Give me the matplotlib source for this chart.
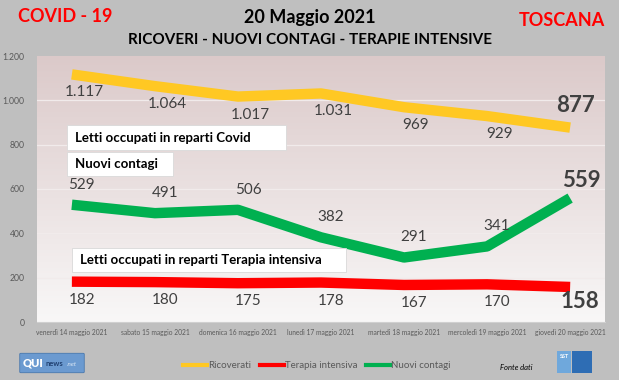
import matplotlib
matplotlib.use("Agg")
import matplotlib.pyplot as plt
import numpy as np
from matplotlib.patches import Rectangle, FancyBboxPatch

categories = ["venerdì 14 maggio 2021", "sabato 15 maggio 2021", "domenica 16 maggio 2021",
              "lunedì 17 maggio 2021", "martedì 18 maggio 2021", "mercoledì 19 maggio 2021",
              "giovedì 20 maggio 2021"]
ricoverati = [1117, 1064, 1017, 1031, 969, 929, 877]
nuovi_contagi = [529, 491, 506, 382, 291, 341, 559]
terapia_intensiva = [182, 180, 175, 178, 167, 170, 158]
yticks = [0, 200, 400, 600, 800, 1000, 1200]
ytick_labels = ["0", "200", "400", "600", "800", "1.000", "1.200"]

def it_fmt(v):
    return f"{v:,}".replace(",", ".")

plt.rcParams['font.family'] = ['Lato', 'DejaVu Sans']

W, H = 619, 380
fig = plt.figure(figsize=(W / 100, H / 100), dpi=100)
fig.patch.set_facecolor('#bfbfbf')

ax = fig.add_axes([37 / W, 1 - 322 / H, (605 - 37) / W, (322 - 56) / H])
XL = (-0.42, 6.42)

# gradient background
grad = np.linspace(0, 1, 256).reshape(-1, 1)
top = np.array([0.975, 0.970, 0.970])
bot = np.array([0.860, 0.790, 0.790])
img = top[None, None, :] * (1 - grad[:, :, None]) + bot[None, None, :] * grad[:, :, None]
ax.imshow(img, extent=[XL[0], XL[1], 1200, 0], aspect='auto', zorder=0)
ax.set_xlim(*XL)
ax.set_ylim(0, 1200)

for y in yticks[1:-1]:
    ax.axhline(y, color='#f1ebeb', lw=0.9, zorder=1)

x = np.arange(len(categories))
kw = dict(lw=7.5, solid_capstyle='butt', solid_joinstyle='round', zorder=3)
ax.plot(x, ricoverati, color='#ffc823', **kw)
ax.plot(x, nuovi_contagi, color='#00b050', **kw)
ax.plot(x, terapia_intensiva, color='#ff0000', **kw)

lab_col = '#404040'
for i in range(6):
    ax.annotate(it_fmt(ricoverati[i]), (x[i], ricoverati[i]), xytext=(12, -18), textcoords='offset pixels',
                ha='center', va='center', fontsize=11, color=lab_col, zorder=5)
    ax.annotate(it_fmt(nuovi_contagi[i]), (x[i], nuovi_contagi[i]), xytext=(10, 20), textcoords='offset pixels',
                ha='center', va='center', fontsize=11, color=lab_col, zorder=5)
    ax.annotate(it_fmt(terapia_intensiva[i]), (x[i], terapia_intensiva[i]), xytext=(10, -18), textcoords='offset pixels',
                ha='center', va='center', fontsize=11, color=lab_col, zorder=5)

bold_kw = dict(textcoords='offset pixels', ha='center', va='center', fontsize=16, fontweight='bold',
               color=lab_col, zorder=5, annotation_clip=False)
ax.annotate(it_fmt(ricoverati[6]), (x[6], ricoverati[6]), xytext=(5, 22), **bold_kw)
ax.annotate(it_fmt(nuovi_contagi[6]), (x[6], nuovi_contagi[6]), xytext=(11, 18), **bold_kw)
ax.annotate(it_fmt(terapia_intensiva[6]), (x[6], terapia_intensiva[6]), xytext=(10, -15), **bold_kw)

ax.set_xticks(x)
ax.set_xticklabels(categories, fontsize=4.8, color='#595959')
ax.set_yticks(yticks)
ax.set_yticklabels(ytick_labels, fontsize=6.2, color='#595959')
ax.tick_params(axis='y', length=0, pad=9)
ax.tick_params(axis='x', length=0, pad=5)
for s in ['top', 'right', 'left']:
    ax.spines[s].set_visible(False)
ax.spines['bottom'].set_color('#d0d0d0')
ax.spines['bottom'].set_linewidth(0.8)

# text boxes (figure pixel coords)
def box(x0, x1, y0, y1, txt, tx):
    fig.patches.append(Rectangle((x0 / W, 1 - y1 / H), (x1 - x0) / W, (y1 - y0) / H,
                                 transform=fig.transFigure, facecolor='white', edgecolor='#d9d9d9',
                                 lw=0.6, zorder=10))
    fig.text(tx / W, 1 - (y0 + y1) / 2 / H, txt, ha='left', va='center', fontsize=9.5,
             fontweight='bold', color='black', zorder=11)

box(67, 286, 125, 150, "Letti occupati in reparti Covid", 75)
box(67, 173, 152, 176, "Nuovi contagi", 75)
box(72, 346, 248, 272, "Letti occupati in reparti Terapia intensiva", 80)

# titles
fig.text(18 / W, 1 - 17 / H, "COVID - 19", color='#ff0000', fontsize=13, fontweight='bold', ha='left', va='center')
fig.text(310 / W, 1 - 17 / H, "20 Maggio 2021", color='black', fontsize=13, fontweight='bold', ha='center', va='center')
fig.text(310 / W, 1 - 40 / H, "RICOVERI - NUOVI CONTAGI - TERAPIE INTENSIVE", color='black', fontsize=11,
         fontweight='bold', ha='center', va='center')
fig.text(605 / W, 1 - 20 / H, "TOSCANA", color='#ff0000', fontsize=13, fontweight='bold', ha='right', va='center')

# legend
leg = [("Ricoverati", '#ffc823', 183), ("Terapia intensiva", '#ff0000', 260), ("Nuovi contagi", '#00b050', 366)]
for name, col, lx in leg:
    fig.lines.append(plt.Line2D([lx / W, (lx + 24) / W], [1 - 365 / H] * 2, color=col, lw=3,
                                transform=fig.transFigure))
    fig.text((lx + 25) / W, 1 - 365 / H, name, fontsize=7, color='#595959', ha='left', va='center')

fig.text(500 / W, 1 - 367 / H, "Fonte dati", fontsize=5.5, style='italic', color='black', ha='left', va='center')

# logos (approximate)
fig.patches.append(FancyBboxPatch((21 / W, 1 - 372 / H), 62 / W, 18 / H, boxstyle='round,pad=0.002',
                                  transform=fig.transFigure, facecolor='#6b9ad0', edgecolor='#3d6fa8', lw=0.5))
fig.text(23 / W, 1 - 363 / H, "QUI", fontsize=8, fontweight='heavy', color='white', ha='left', va='center')
fig.text(46 / W, 1 - 364 / H, "news", fontsize=5.5, fontweight='bold', color='#1f3f6f', ha='left', va='center')
fig.text(67 / W, 1 - 364 / H, ".net", fontsize=4.5, color='#dce8f5', ha='left', va='center', style='italic')
fig.patches.append(Rectangle((557 / W, 1 - 373 / H), 14 / W, 22 / H, transform=fig.transFigure,
                             facecolor='#6fa8dc', edgecolor='none'))
fig.patches.append(Rectangle((572 / W, 1 - 373 / H), 20 / W, 22 / H, transform=fig.transFigure,
                             facecolor='#2e6db4', edgecolor='none'))
fig.text(564 / W, 1 - 356 / H, "SST", fontsize=4, fontweight='bold', color='white', ha='center', va='center')

fig.savefig("out.png", dpi=100, facecolor=fig.get_facecolor())
